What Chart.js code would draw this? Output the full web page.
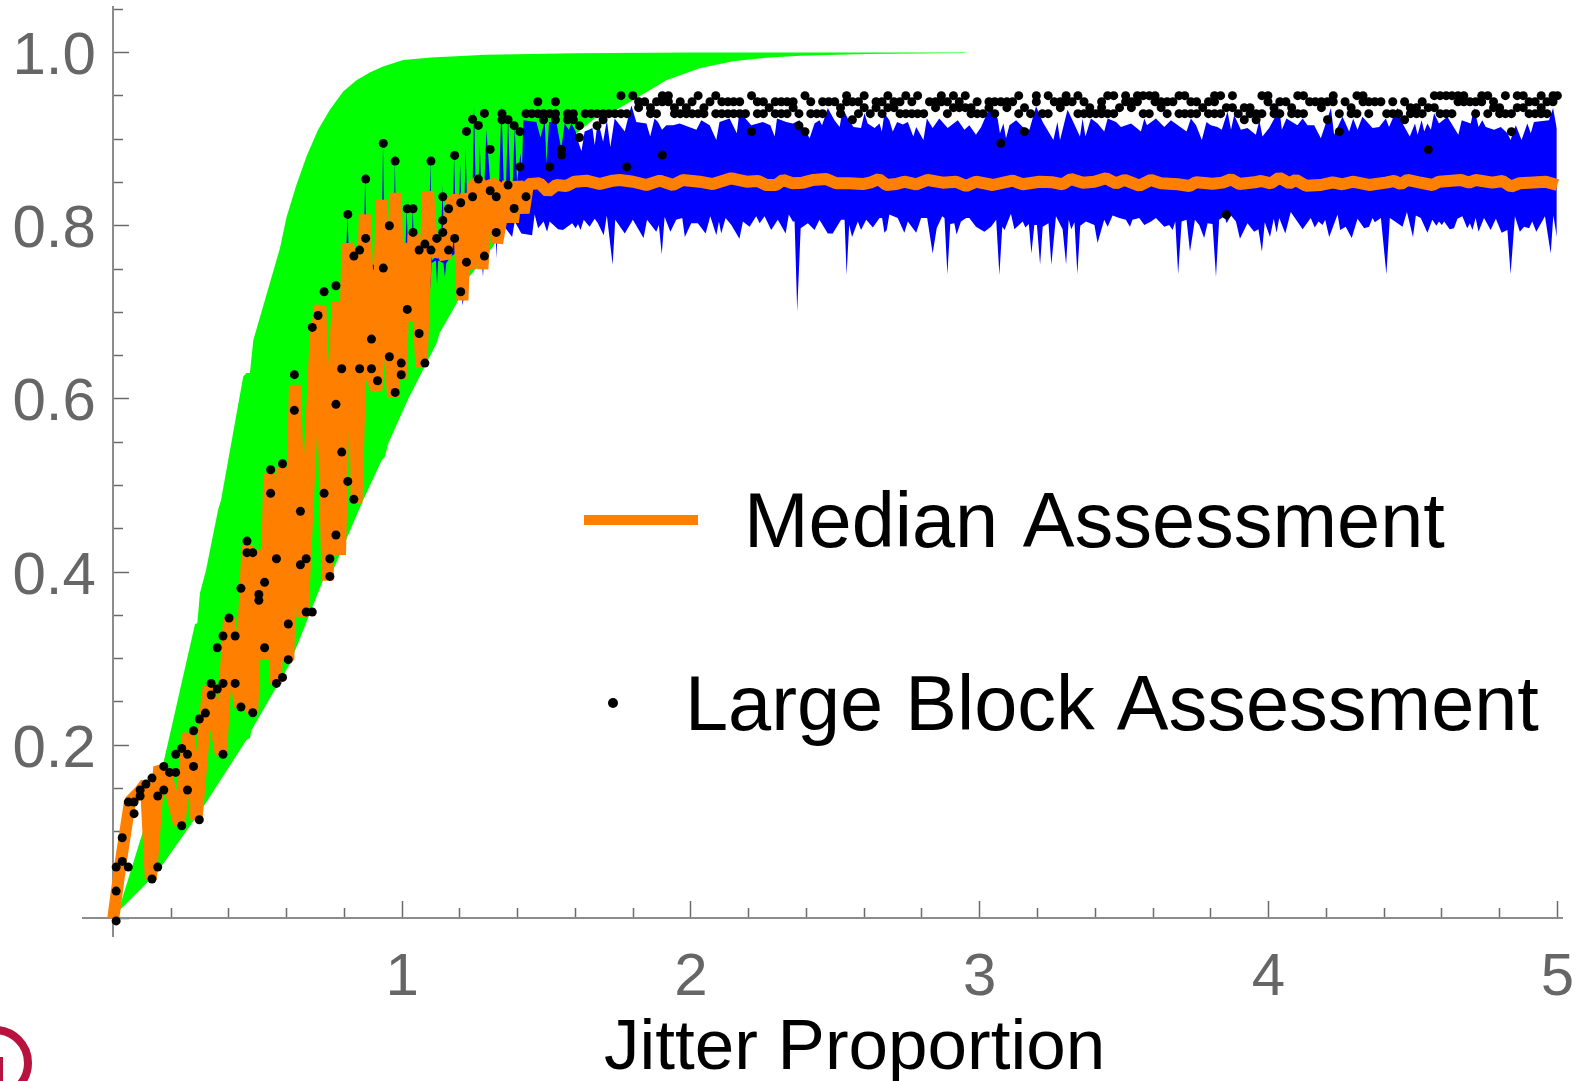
<!DOCTYPE html>
<html><head><meta charset="utf-8">
<style>html,body{margin:0;padding:0;background:#fff}canvas{display:block}</style>
<script src="https://cdn.jsdelivr.net/npm/chart.js@4/dist/chart.umd.min.js"></script>
</head><body><canvas id="c" width="1585" height="1081"></canvas>
<script>
const columnX=[.010,.031,.052,.072,.093,.113,.134,.154,.175,.195,.216,.237,.257,.278,.298,.319,.339,.360,.380,.401,.422,.442,.463,.483,.504,.524,.545,.565,.586,.606,.627,.648,.668,.689,.709,.730,.750,.771,.791,.812,.833,.853,.874,.894,.915,.935,.956,.976,.997,1.018,1.038,1.059,1.079,1.100,1.120,1.141,1.161,1.182,1.203,1.223,1.244,1.264,1.285,1.305,1.326,1.346,1.367,1.388,1.408,1.429,1.449,1.470,1.490,1.511,1.531,1.552,1.573,1.593,1.614,1.634,1.655,1.675,1.696,1.716,1.737,1.758,1.778,1.799,1.819,1.840,1.860,1.881,1.901,1.922,1.943,1.963,1.984,2.004,2.025,2.045,2.066,2.086,2.107,2.128,2.148,2.169,2.189,2.210,2.230,2.251,2.271,2.292,2.313,2.333,2.354,2.374,2.395,2.415,2.436,2.456,2.477,2.498,2.518,2.539,2.559,2.580,2.600,2.621,2.641,2.662,2.682,2.703,2.724,2.744,2.765,2.785,2.806,2.826,2.847,2.867,2.888,2.909,2.929,2.950,2.970,2.991,3.011,3.032,3.052,3.073,3.094,3.114,3.135,3.155,3.176,3.196,3.217,3.237,3.258,3.279,3.299,3.320,3.340,3.361,3.381,3.402,3.422,3.443,3.464,3.484,3.505,3.525,3.546,3.566,3.587,3.607,3.628,3.649,3.669,3.690,3.710,3.731,3.751,3.772,3.792,3.813,3.834,3.854,3.875,3.895,3.916,3.936,3.957,3.977,3.998,4.019,4.039,4.060,4.080,4.101,4.121,4.142,4.162,4.183,4.204,4.224,4.245,4.265,4.286,4.306,4.327,4.347,4.368,4.389,4.409,4.430,4.450,4.471,4.491,4.512,4.532,4.553,4.574,4.594,4.615,4.635,4.656,4.676,4.697,4.717,4.738,4.759,4.779,4.800,4.820,4.841,4.861,4.882,4.902,4.923,4.944,4.964,4.985,5.0];

const dotsAt950=[85,87,92,93,98,101,107,116,123,126,130,133,135,139,141,143,152,155,157,160,162,167,168,170,172,173,174,175,179,180,185,186,188,193,194,199,200,205,209,210,222,223,224,225,226,227,230,231,234,236,237,240,242,243];
const dotsAt943=[71,74,88,89,91,92,93,95,97,100,102,103,104,105,108,109,111,112,113,114,117,119,120,121,123,124,125,128,129,131,132,134,137,138,139,140,142,145,147,148,149,150,151,155,158,159,160,161,163,166,170,171,172,175,176,177,178,181,182,184,185,194,196,197,201,202,203,204,205,207,210,211,212,213,215,217,220,226,227,228,229,230,232,238,239,241,242];
const dotsAt936=[88,90,94,96,99,110,114,122,126,128,130,131,138,141,142,143,144,147,150,153,159,164,166,169,171,176,183,187,188,190,191,195,198,203,208,218,219,221,222,232,233,236,237,240];
const dotsAt930=[65,69,70,71,72,73,74,76,77,79,80,81,82,83,84,85,86,90,91,94,95,96,97,98,99,101,102,103,104,105,106,108,109,111,112,113,115,117,118,119,122,125,127,129,132,133,134,135,136,140,144,145,146,148,152,154,156,157,162,163,164,165,166,167,168,173,174,177,179,180,181,182,184,185,186,189,191,192,193,195,196,198,199,200,206,208,209,211,214,215,216,218,219,220,223,224,225,229,231,233,234,235,238,239,240,241];
const dotsAt923=[65,66,72,74,76,77,82,124,190,192,204,217];
const dotsAt916=[67,78,81,115];
const dotsAt909=[68,107,116,153,206,235];
const dotsOther=[[0,-.003],[0,.0315],[0,.0592],[1,.0658],[1,.0931],[2,.0592],[2,.1343],[3,.1343],[3,.1209],[4,.1482],[4,.1413],[5,.1551],[6,.162],[6,.0454],[7,.1413],[7,.0592],[8,.1755],[8,.1482],[9,.1686],[10,.1686],[10,.1894],[11,.1963],[11,.107],[12,.1894],[12,.1482],[13,.2167],[13,.1755],[14,.2302],[14,.1139],[15,.2371],[16,.2714],[16,.258],[17,.3126],[17,.2649],[18,.3261],[18,.2714],[18,.1894],[19,.3469],[20,.3261],[20,.2714],[21,.3812],[21,.2441],[22,.4358],[22,.4224],[23,.4224],[23,.2375],[24,.3742],[24,.3673],[25,.3881],[25,.3126],[26,.5182],[26,.4909],[27,.4154],[27,.2714],[28,.5251],[28,.2783],[29,.34],[29,.2988],[30,.628],[30,.5868],[31,.4701],[31,.4085],[32,.4154],[32,.3538],[33,.6826],[33,.3538],[34,.6964],[35,.7238],[35,.4909],[36,.4154],[36,.395],[37,.7307],[37,.5937],[37,.4428],[38,.6349],[38,.5386],[39,.8131],[39,.5047],[40,.765],[40,.484],[41,.7719],[41,.6349],[42,.8539],[42,.7854],[43,.6691],[43,.6349],[44,.621],[45,.8951],[45,.7511],[46,.8],[46,.6487],[47,.8747],[47,.6075],[48,.6414],[48,.6279],[49,.8197],[49,.7034],[50,.8197],[50,.7923],[51,.7719],[51,.6756],[52,.7788],[52,.6414],[53,.8747],[53,.7719],[54,.7854],[55,.8335],[55,.8062],[55,.7923],[56,.8197],[56,.7719],[57,.8813],[57,.7854],[58,.8266],[58,.7238],[59,.909],[59,.758],[60,.9229],[60,.8335],[61,.9159],[61,.8539],[62,.9298],[62,.765],[63,.8882],[63,.8405],[64,.8335],[64,.7923],[78,.902],[75,.888],[75,.8817],[92,.8817],[68,.868],[73,.868],[86,.868],[66,.847],[69,.8336],[67,.82],[149,.8952],[221,.888],[187,.8128]];

const median=[[0,0],[.026,.065],[.058,.135],[.09,.146],[.113,.156],[.13,.045],[.159,.175],[.187,.162],[.229,.108],[.26,.214],[.288,.114],[.323,.248],[.331,.268],[.373,.189],[.401,.347],[.438,.245],[.465,.431],[.481,.237],[.503,.425],[.525,.30],[.54,.513],[.563,.271],[.586,.52],[.606,.298],[.629,.616],[.655,.348],[.70,.668],[.717,.708],[.742,.39],[.755,.589],[.778,.712],[.785,.42],[.811,.779],[.836,.752],[.842,.479],[.871,.813],[.893,.626],[.912,.61],[.929,.83],[.955,.66],[.969,.602],[.978,.838],[.995,.622],[1.012,.78],[1.025,.69],[1.04,.79],[1.067,.637],[1.09,.84],[1.105,.765],[1.125,.78],[1.15,.762],[1.172,.83],[1.195,.83],[1.209,.714],[1.222,.838],[1.235,.75],[1.246,.846],[1.269,.853],[1.278,.75],[1.298,.846],[1.327,.849],[1.329,.78],[1.367,.851],[1.384,.804],[1.40,.851],[1.421,.815],[1.436,.848],[1.476,.849],[1.505,.8394],[1.534,.8471],[1.569,.8459],[1.598,.8509],[1.638,.8521],[1.684,.8482],[1.730,.8521],[1.753,.8529],[1.800,.8509],[1.846,.8471],[1.892,.8521],[1.938,.8471],[1.972,.8529],[2.030,.8509],[2.076,.8482],[2.140,.8548],[2.192,.8509],[2.232,.8517],[2.261,.8471],[2.295,.8471],[2.319,.8529],[2.353,.849],[2.388,.8498],[2.422,.8529],[2.468,.854],[2.503,.849],[2.549,.849],[2.595,.8482],[2.624,.8502],[2.651,.854],[2.676,.8471],[2.711,.8482],[2.739,.8509],[2.780,.8479],[2.820,.8529],[2.872,.8498],[2.918,.8509],[2.953,.8459],[2.987,.8509],[3.045,.8471],[3.114,.8521],[3.149,.8479],[3.207,.8509],[3.253,.8502],[3.287,.8479],[3.316,.854],[3.357,.8498],[3.397,.8509],[3.437,.8548],[3.472,.849],[3.501,.8529],[3.553,.8463],[3.593,.8529],[3.628,.849],[3.685,.8479],[3.726,.8459],[3.749,.8502],[3.806,.8486],[3.841,.8498],[3.870,.8536],[3.899,.8482],[3.951,.8502],[3.974,.8517],[4.008,.849],[4.037,.8556],[4.072,.849],[4.095,.8529],[4.129,.8463],[4.181,.8471],[4.222,.8502],[4.256,.8479],[4.291,.8509],[4.348,.8471],[4.406,.8498],[4.435,.8517],[4.458,.8482],[4.481,.8529],[4.521,.8502],[4.568,.8471],[4.591,.8509],[4.666,.8529],[4.694,.8498],[4.717,.8529],[4.775,.8498],[4.810,.8517],[4.839,.8452],[4.868,.849],[4.902,.8498],[4.960,.8509],[5.0,.8471]];

const blueUpper=[[.79,.745],[.805,.755],[.811,.813],[.817,.755],[.866,.755],[.872,.854],[.878,.755],[.928,.755],[.934,.895],[.94,.755],[.969,.755],[.975,.875],[.981,.755],[1.01,.755],[1.016,.82],[1.022,.755],[1.031,.755],[1.037,.82],[1.043,.755],[1.092,.76],[1.098,.875],[1.104,.76],[1.134,.77],[1.14,.847],[1.146,.77],[1.174,.79],[1.18,.881],[1.187,.79],[1.196,.80],[1.201,.872],[1.207,.80],[1.215,.81],[1.22,.891],[1.226,.81],[1.243,.82],[1.249,.939],[1.256,.83],[1.263,.83],[1.269,.895],[1.275,.83],[1.283,.83],[1.292,.911],[1.305,.85],[1.336,.85],[1.344,.94],[1.352,.85],[1.36,.85],[1.367,.926],[1.374,.85],[1.383,.85],[1.39,.914],[1.398,.85],[1.41,.884],[1.415,.865],[1.42,.922],
[1.465,.920],[1.479,.902],[1.494,.921],[1.50,.872],[1.509,.920],[1.534,.920],[1.551,.889],[1.563,.918],[1.577,.911],[1.586,.918],[1.601,.909],[1.612,.895],[1.621,.886],[1.632,.909],[1.647,.911],[1.659,.913],[1.667,.893],[1.678,.922],[1.696,.897],[1.709,.922],[1.721,.891],[1.736,.924],[1.771,.909],[1.782,.924],[1.794,.939],[1.811,.920],[1.846,.918],[1.859,.903],[1.874,.924],[1.886,.920],[1.90,.911],[1.915,.916],[1.938,.916],[1.961,.918],[2.019,.911],[2.036,.922],[2.065,.916],[2.088,.899],[2.099,.920],[2.134,.924],[2.159,.907],[2.168,.932],[2.209,.916],[2.249,.920],[2.275,.916],[2.29,.903],[2.298,.924],[2.33,.920],[2.353,.918],[2.376,.922],[2.411,.901],[2.428,.918],[2.445,.922],[2.454,.916],[2.474,.936],[2.497,.922],[2.515,.914],[2.526,.936],[2.543,.924],
[2.563,.914],[2.589,.913],[2.601,.930],[2.612,.918],[2.636,.913],[2.653,.918],[2.661,.909],[2.670,.930],[2.687,.922],[2.699,.909],[2.714,.920],[2.734,.917],[2.751,.920],[2.770,.903],[2.780,.914],[2.805,.899],[2.817,.924],[2.837,.913],[2.860,.924],[2.889,.913],[2.924,.922],[2.947,.911],[2.964,.916],[2.987,.905],[3.005,.914],[3.033,.936],[3.062,.924],[3.070,.907],[3.082,.918],[3.091,.901],[3.103,.916],[3.126,.922],[3.149,.914],[3.172,.911],[3.195,.938],[3.218,.920],[3.255,.899],[3.269,.920],[3.278,.899],[3.304,.934],[3.324,.920],[3.347,.903],[3.356,.924],[3.366,.903],[3.385,.924],[3.408,.918],[3.431,.909],[3.443,.924],[3.472,.920],[3.489,.914],[3.524,.918],[3.558,.909],[3.570,.924],[3.579,.916],[3.610,.924],[3.639,.914],[3.662,.922],[3.716,.909],[3.731,.924],[3.749,.916],
[3.769,.899],[3.785,.920],[3.800,.916],[3.823,.914],[3.838,.911],[3.858,.932],[3.870,.911],[3.881,.928],[3.904,.911],[3.927,.913],[3.956,.905],[3.968,.922],[3.979,.903],[4.002,.913],[4.020,.924],[4.037,.936],[4.046,.911],[4.062,.924],[4.100,.916],[4.118,.924],[4.135,.916],[4.158,.916],[4.181,.901],[4.216,.936],[4.227,.905],[4.256,.926],[4.279,.909],[4.293,.924],[4.308,.911],[4.325,.926],[4.360,.913],[4.383,.914],[4.406,.924],[4.417,.914],[4.446,.936],[4.464,.918],[4.489,.903],[4.507,.918],[4.516,.905],[4.530,.922],[4.539,.909],[4.550,.918],[4.562,.911],[4.573,.930],[4.590,.918],[4.619,.926],[4.657,.905],[4.669,.922],[4.700,.918],[4.712,.936],[4.727,.914],[4.740,.922],[4.752,.914],[4.781,.911],[4.804,.914],[4.827,.907],[4.838,.899],[4.856,.916],[4.876,.899],[4.896,.918],[4.908,.907],[4.919,.920],[4.971,.922],[4.985,.936],[4.998,.912]];

const blueLower=[[.79,.745],[1.09,.757],[1.094,.757],[1.098,.726],[1.102,.757],[1.117,.76],[1.121,.732],[1.125,.76],[1.143,.757],[1.148,.741],[1.153,.757],[1.171,.765],[1.194,.77],[1.205,.74],[1.209,.708],[1.217,.722],[1.226,.75],[1.243,.81],[1.256,.83],[1.263,.83],[1.276,.76],[1.28,.741],[1.284,.76],[1.30,.80],[1.322,.84],[1.326,.762],[1.332,.80],[1.338,.83],
[1.35,.801],[1.381,.787],[1.39,.805],[1.413,.791],[1.45,.789],[1.459,.813],[1.471,.797],[1.490,.805],[1.502,.793],[1.511,.805],[1.540,.796],[1.557,.795],[1.589,.803],[1.601,.797],[1.609,.802],[1.618,.795],[1.629,.807],[1.649,.799],[1.667,.808],[1.678,.803],[1.698,.789],[1.709,.812],[1.729,.755],[1.738,.807],[1.771,.791],[1.799,.807],[1.836,.786],[1.848,.807],[1.880,.793],[1.889,.801],[1.899,.767],[1.909,.810],[1.929,.793],[1.949,.807],[1.970,.809],[1.979,.787],[2.001,.803],[2.024,.803],[2.051,.791],[2.067,.811],[2.088,.789],[2.097,.805],[2.105,.791],[2.120,.809],[2.140,.801],[2.168,.785],[2.180,.805],[2.203,.799],[2.226,.811],[2.238,.803],[2.255,.811],[2.278,.795],[2.301,.807],[2.328,.791],[2.339,.813],[2.353,.805],[2.359,.805],[2.368,.701],[2.380,.797],[2.405,.803],[2.428,.795],[2.445,.807],[2.474,.791],[2.491,.791],[2.520,.807],[2.532,.807],[2.539,.743],[2.548,.801],
[2.558,.787],[2.578,.805],[2.589,.795],[2.607,.807],[2.630,.798],[2.653,.809],[2.662,.809],[2.670,.792],[2.678,.795],[2.687,.813],[2.716,.809],[2.739,.792],[2.751,.805],[2.780,.792],[2.797,.809],[2.818,.809],[2.837,.768],[2.851,.797],[2.870,.811],[2.878,.809],[2.888,.744],[2.898,.802],[2.912,.803],[2.920,.790],[2.935,.805],[2.953,.809],[2.964,.809],[2.987,.799],[3.016,.793],[3.039,.799],[3.057,.807],[3.068,.743],[3.078,.799],[3.086,.795],[3.108,.814],[3.120,.796],[3.149,.805],[3.158,.798],[3.170,.802],[3.179,.768],[3.189,.801],[3.198,.801],[3.209,.755],[3.218,.799],[3.238,.803],[3.248,.755],[3.264,.811],[3.287,.796],[3.299,.755],[3.308,.807],[3.317,.796],[3.328,.804],[3.338,.744],[3.348,.800],[3.368,.805],[3.397,.801],[3.408,.780],[3.431,.807],[3.443,.799],[3.460,.812],[3.483,.809],[3.506,.807],[3.520,.799],[3.529,.807],[3.552,.809],[3.570,.801],[3.593,.805],[3.610,.809],[3.639,.799],[3.656,.801],[3.668,.795],[3.677,.805],[3.687,.744],[3.699,.805],[3.716,.807],[3.728,.770],[3.745,.807],
[3.760,.801],[3.777,.786],[3.789,.803],[3.806,.802],[3.818,.741],[3.829,.807],[3.847,.811],[3.855,.803],[3.870,.812],[3.887,.805],[3.901,.785],[3.927,.803],[3.950,.793],[3.965,.796],[3.977,.770],[3.987,.804],[4.005,.787],[4.018,.808],[4.028,.792],[4.037,.809],[4.058,.791],[4.077,.816],[4.118,.796],[4.146,.809],[4.160,.798],[4.173,.805],[4.187,.801],[4.196,.807],[4.210,.787],[4.239,.813],[4.248,.795],[4.267,.799],[4.288,.786],[4.308,.808],[4.331,.797],[4.348,.799],[4.360,.809],[4.368,.804],[4.389,.809],[4.408,.744],[4.420,.809],[4.438,.805],[4.464,.799],[4.479,.816],[4.500,.787],[4.510,.812],[4.527,.809],[4.550,.792],[4.567,.807],[4.581,.800],[4.590,.805],[4.600,.801],[4.608,.805],[4.627,.796],[4.642,.797],[4.654,.808],[4.671,.811],[4.688,.797],[4.697,.803],[4.706,.795],[4.717,.809],[4.727,.793],[4.746,.809],[4.769,.795],[4.787,.808],[4.807,.792],[4.827,.795],[4.838,.744],[4.853,.811],[4.870,.793],[4.885,.799],[4.902,.797],[4.913,.805],[4.927,.793],[4.957,.811],[4.977,.768],[4.986,.812],[4.998,.787]];

const greenUpper=[[0,0],[.017,.008],[.11,.108],[.173,.179],[.202,.221],[.283,.34],[.291,.341],[.30,.3755],[.321,.402],[.363,.472],[.373,.483],[.45,.626],[.461,.63],[.473,.63],[.485,.668],[.577,.774],[.60,.81],[.634,.847],[.669,.88],[.709,.911],[.75,.934],[.796,.955],[.842,.968],[.888,.977],[.934,.984],[1.004,.9914],[1.1,.9945],[1.29,.9975],[1.6,.9993],[2,1],[2.95,1]];
const greenLower=[[0,0],[.023,.0096],[.15,.052],[.312,.129],[.461,.206],[.473,.208],[.479,.2175],[.612,.2945],[.727,.391],[.761,.402],[.865,.483],[.929,.529],[.94,.533],[.952,.5486],[1.021,.6],[1.119,.664],[1.13,.676],[1.188,.71],[1.223,.737],[1.269,.756],[1.315,.776],[1.355,.80],[1.38,.825],[1.407,.85],[1.5,.872],[1.55,.89],[1.615,.91],[1.667,.924],[1.742,.934],[1.799,.945],[1.915,.968],[2.03,.982],[2.145,.99],[2.261,.994],[2.376,.9965],[2.607,.9985],[2.95,.9995]];

const xLabelTicks=[1,2,3,4,5];
const yLabelTicks=[.2,.4,.6,.8,1];
const xMajorTicks=[1,2,3,4,5];
const xMinorTicks=[.2,.4,.6,.8,1.2,1.4,1.6,1.8,2.2,2.4,2.6,2.8,3.2,3.4,3.6,3.8,4.2,4.4,4.6,4.8];
const yMajorTicks=[0,.2,.4,.6,.8,1];
const yMinorTicks=[.05,.1,.15,.25,.3,.35,.45,.5,.55,.65,.7,.75,.85,.9,.95,1.05];
const xLimits=[-.1048,5.016];
const yLimits=[-.0204,1.0527];
const legendLabels=['Median Assessment','Large Block Assessment'];
const xTitle='Jitter Proportion';

const pairs=a=>a.map(([x,y])=>({x,y}));
const atLevel=(cols,y)=>cols.map(j=>({x:columnX[j],y}));
const allDots=[...atLevel(dotsAt950,.9503),...atLevel(dotsAt943,.9433),...atLevel(dotsAt936,.9364),...atLevel(dotsAt930,.9295),...atLevel(dotsAt923,.9225),...atLevel(dotsAt916,.9156),...atLevel(dotsAt909,.9087),...dotsOther.map(([j,y])=>({x:columnX[j],y}))];

const band=(data,fill,color,order)=>({type:'line',data:pairs(data),fill,backgroundColor:color,borderColor:color,borderWidth:0,pointRadius:0,tension:0,order,clip:false});
const FONT='"Liberation Sans", Arial, sans-serif';
const setTicks=list=>s=>{s.ticks=list.map(value=>({value}));};
const noPad=s=>{s.paddingTop=0;s.paddingBottom=0;s.paddingLeft=0;s.paddingRight=0;};
const tickAxis=(axis,pos,list,len,showBorder)=>({type:'linear',axis,position:pos,min:(axis==='x'?xLimits:yLimits)[0],max:(axis==='x'?xLimits:yLimits)[1],
  afterBuildTicks:setTicks(list),
  afterFit:noPad,
  ticks:{display:false},
  border:{display:showBorder,color:'#8c8c8c',width:2},
  grid:{drawOnChartArea:false,drawTicks:true,tickLength:-len,tickColor:'#6a6a6a',tickWidth:1.5}});

const overlay={id:'overlay',afterDraw(chart){
  const c=chart.ctx;c.save();
  c.fillStyle='#000';c.textBaseline='alphabetic';c.textAlign='left';
  c.font='71px '+FONT;c.fillText(xTitle,604,1069);
  c.font='77.5px '+FONT;
  c.wordSpacing='3px';c.fillText(legendLabels[0],744,547);
  c.wordSpacing='0.5px';c.fillText(legendLabels[1],685,730);
  c.wordSpacing='0px';
  c.strokeStyle='#ff7f00';c.lineWidth=10;c.beginPath();c.moveTo(584,520);c.lineTo(698,520);c.stroke();
  c.fillStyle='#000';c.beginPath();c.arc(613,703,5,0,Math.PI*2);c.fill();
  c.strokeStyle='#b8123e';c.lineWidth=8;c.beginPath();c.arc(-5,1063,33,-Math.PI/2,Math.PI/2);c.stroke();
  c.fillStyle='#b8123e';c.fillRect(0,1057,3,24);
  c.restore();
}};

new Chart(document.getElementById('c'),{
  type:'line',
  data:{datasets:[
    {type:'scatter',data:allDots,showLine:false,pointRadius:4.5,pointBackgroundColor:'#000',pointBorderWidth:0,order:1,clip:false},
    {type:'line',data:pairs(median),borderColor:'#ff7f00',borderWidth:12,borderJoinStyle:'bevel',borderCapStyle:'butt',pointRadius:0,tension:0,fill:false,order:2,clip:false},
    band(blueUpper,'+1','#0000ff',3),
    band(blueLower,false,'#0000ff',4),
    band(greenUpper,'+1','#00ff00',5),
    band(greenLower,false,'#00ff00',6)
  ]},
  options:{
    responsive:false,animation:false,
    layout:{autoPadding:false,padding:{left:3,top:7,right:23,bottom:45}},
    plugins:{legend:{display:false},tooltip:{enabled:false}},
    elements:{line:{borderWidth:0}},
    scales:{
      x:{type:'linear',position:'bottom',min:xLimits[0],max:xLimits[1],
        afterBuildTicks:setTicks(xLabelTicks),
        afterFit:s=>{noPad(s);s.height=100;},
        border:{display:false},grid:{display:false},
        ticks:{color:'#666',font:{size:60,family:FONT},padding:-2,autoSkip:false,maxRotation:0,minRotation:0,callback:v=>String(v)}},
      y:{type:'linear',position:'left',min:yLimits[0],max:yLimits[1],
        afterBuildTicks:setTicks(yLabelTicks),
        afterFit:s=>{noPad(s);s.width=80;},
        border:{display:false},grid:{display:false},
        ticks:{color:'#666',font:{size:60,family:FONT},mirror:true,padding:-70.5,labelOffset:5,autoSkip:false,callback:v=>v.toFixed(1)}},
      xMajor:tickAxis('x',{y:0},xMajorTicks,18,true),
      xMinor:tickAxis('x',{y:0},xMinorTicks,10,false),
      yMajor:tickAxis('y',{x:0},yMajorTicks,17,true),
      yMinor:tickAxis('y',{x:0},yMinorTicks,10,false)
    }
  },
  plugins:[overlay]
});
</script></body></html>
